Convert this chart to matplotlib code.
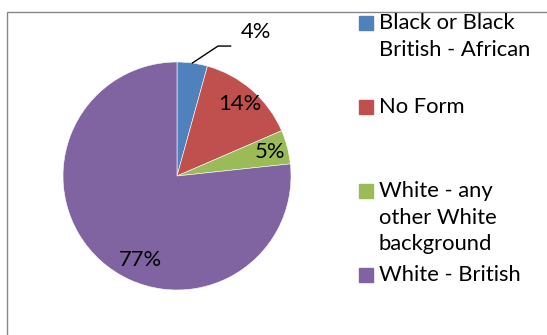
# Pie chart: ethnicity breakdown
import matplotlib
matplotlib.use("Agg")
import numpy as np
import matplotlib.pyplot as plt
from matplotlib.patches import Rectangle

# data
labels = ["Black or Black\nBritish - African", "No Form",
          "White - any\nother White\nbackground", "White - British"]
values = [4.3, 14.2, 4.8, 76.7]
colors = ["#4F81BD", "#C0504D", "#9BBB59", "#8064A2"]

plt.rcParams["font.family"] = ["Lato", "DejaVu Sans"]
FS = 15.8

W, H = 547, 335
fig = plt.figure(figsize=(W / 100, H / 100), dpi=100)

# pie axes: centre (177,176) px, radius 114 px
cx, cy, r = 177, 176, 114
ax = fig.add_axes([(cx - r) / W, (H - cy - r) / H, 2 * r / W, 2 * r / H])
wedges, texts, autotexts = ax.pie(values, colors=colors, startangle=90, counterclock=False,
                                  autopct="%.0f%%", pctdistance=0.84,
                                  wedgeprops=dict(edgecolor="white", linewidth=0.4),
                                  textprops=dict(fontsize=FS, color="black"))
ax.set_xlim(-1, 1)
ax.set_ylim(-1, 1)
ax.set_aspect("equal")

# 4% label outside with leader line
w0 = wedges[0]
a = np.deg2rad((w0.theta1 + w0.theta2) / 2)
ex, ey = np.cos(a), np.sin(a)
ax.plot([ex, 0.36, 0.47], [ey, 1.14, 1.14], color="black", lw=1, clip_on=False)
autotexts[0].set_position((0.69, 1.26))
# 77% label placed lower-left like the original
autotexts[3].set_position((-0.32, -0.74))

# chart border
fig.patches.append(Rectangle((7 / W, -0.1), 1.2, 1.1 - 12 / H, transform=fig.transFigure,
                             fill=False, edgecolor="#878787", lw=1))

# legend
for i, (lab, col) in enumerate(zip(labels, colors)):
    yc = H - (23 + 84 * i)
    fig.patches.append(Rectangle((359 / W, (yc - 7) / H), 14 / W, 14 / H,
                                 transform=fig.transFigure, color=col))
    fig.text(379 / W, (yc + 10) / H, lab, fontsize=FS, va="top", ha="left",
             linespacing=1.42)

fig.savefig("out.png", dpi=100)
